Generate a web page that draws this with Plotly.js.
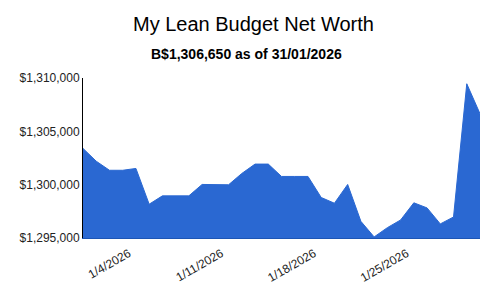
<!DOCTYPE html>
<html>
<head>
<meta charset="utf-8">
<script src="https://cdn.plot.ly/plotly-3.0.1.min.js"></script>
<style>html,body{margin:0;padding:0;background:#fff;}#chart{width:494px;height:293px;}</style>
</head>
<body>
<div id="chart"></div>
<script>
var dates = ["2026-01-01","2026-01-02","2026-01-03","2026-01-04","2026-01-05","2026-01-06","2026-01-07","2026-01-08","2026-01-09","2026-01-10","2026-01-11","2026-01-12","2026-01-13","2026-01-14","2026-01-15","2026-01-16","2026-01-17","2026-01-18","2026-01-19","2026-01-20","2026-01-21","2026-01-22","2026-01-23","2026-01-24","2026-01-25","2026-01-26","2026-01-27","2026-01-28","2026-01-29","2026-01-30","2026-01-31"];
var netWorth = [1303400,1302200,1301350,1301350,1301520,1298170,1298950,1298950,1298950,1300020,1299990,1299990,1301050,1301930,1301930,1300770,1300770,1300770,1298800,1298260,1300020,1296560,1295100,1295970,1296690,1298300,1297820,1296320,1296970,1309460,1306650];
var tickDates = ["2026-01-04","2026-01-11","2026-01-18","2026-01-25"];
var tickLabels = ["1/4/2026","1/11/2026","1/18/2026","1/25/2026"];
var yTicks = [1295000,1300000,1305000,1310000];
var titleText = "My Lean Budget Net Worth";
var subtitleText = "B$1,306,650 as of 31/01/2026";

// label anchor sits slightly right of the date, as in the reference
var tickPos = tickDates.map(function(d){ return d + " 11:00"; });

var trace = {
  x: dates, y: netWorth, type: "scatter", mode: "lines",
  fill: "tozeroy", fillcolor: "#2a68d2",
  line: {color: "#2a68d2", width: 1},
  hoverinfo: "x+y"
};
var layout = {
  width: 494, height: 293,
  margin: {l: 83, r: 14, t: 78, b: 55},
  paper_bgcolor: "#fff", plot_bgcolor: "#fff",
  font: {family: "Arial, 'Liberation Sans', sans-serif", color: "#222", size: 12},
  title: {text: titleText, font: {size: 20, color: "#000"}, x: 0.513, xref: "container", xanchor: "center", y: 0.918, yref: "container", yanchor: "middle"},
  annotations: [{text: "<b>" + subtitleText + "</b>", xref: "paper", yref: "paper", x: 0.413, y: 1.153, xanchor: "center", yanchor: "middle", showarrow: false, font: {size: 14, color: "#000"}}],
  xaxis: {type: "date", range: ["2026-01-01","2026-01-31"], tickvals: tickPos, ticktext: tickLabels, tickangle: -30, ticklabelstandoff: 3, showgrid: false, zeroline: false, showline: true, linecolor: "#1c55b5", linewidth: 1, ticks: "", tickfont: {size: 12, color: "#222"}},
  yaxis: {range: [1295000, 1310000], tickvals: yTicks, tickformat: "$,.0f", showgrid: false, zeroline: false, showline: true, linecolor: "#000", linewidth: 1, ticks: "", tickfont: {size: 12, color: "#222"}},
  showlegend: false
};
Plotly.newPlot("chart", [trace], layout, {displayModeBar: false, staticPlot: true});
</script>
</body>
</html>
